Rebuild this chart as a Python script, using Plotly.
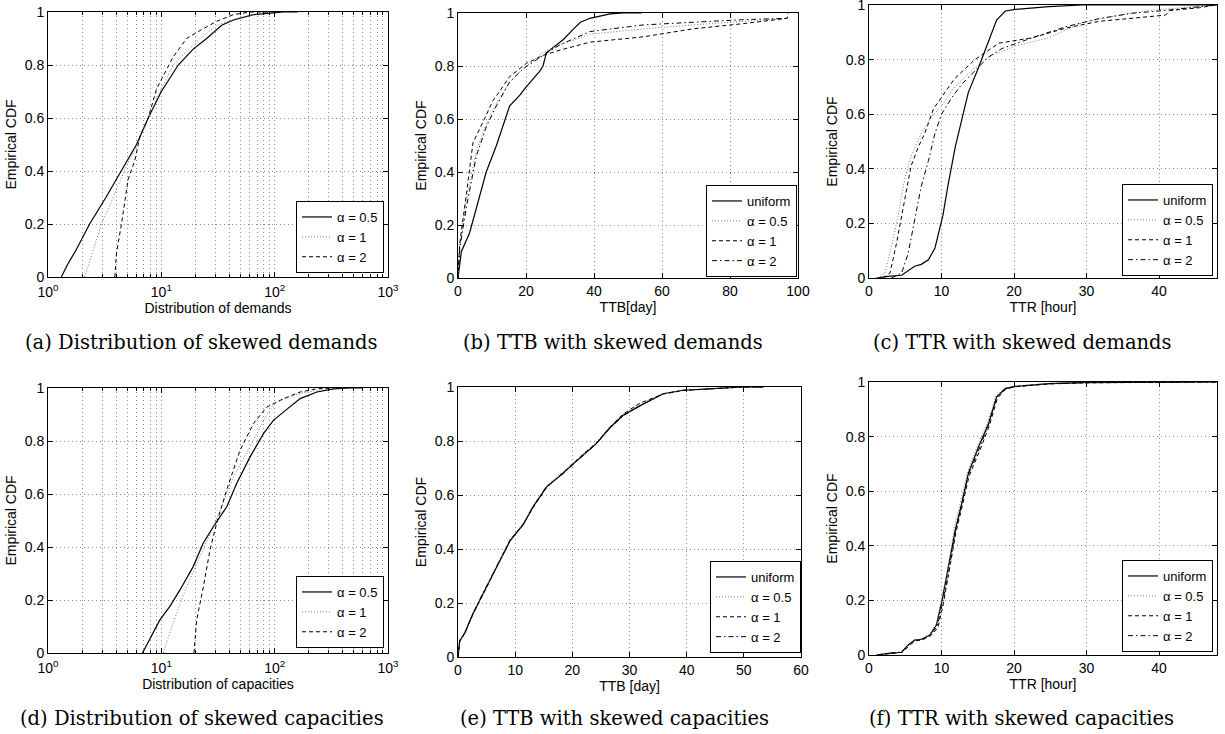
import plotly.graph_objects as go

W, H = 1225, 734

# ---------------- data ----------------
legend_alpha3 = ["α = 0.5", "α = 1", "α = 2"]
legend_alpha4 = ["uniform", "α = 0.5", "α = 1", "α = 2"]

# (a) Distribution of skewed demands (log x)
a_x05 = [1.31, 1.50, 1.76, 2.04, 2.33, 3.24, 4.45, 6.04, 7.66, 10.0, 14.1, 19.1, 25.1, 34.1, 43.3, 65, 120, 160]
a_y05 = [0, 0.05, 0.10, 0.15, 0.20, 0.30, 0.40, 0.50, 0.60, 0.70, 0.80, 0.86, 0.90, 0.95, 0.97, 0.99, 1.0, 1.0]
a_x1 = [2.11, 2.96, 3.76, 4.93, 6.46, 7.66, 9.71, 12.7, 21.9, 30.8, 50, 85, 160]
a_y1 = [0, 0.20, 0.30, 0.42, 0.52, 0.60, 0.70, 0.80, 0.90, 0.95, 0.98, 1.0, 1.0]
a_x2 = [3.89, 4.02, 4.45, 5.10, 5.84, 6.46, 7.66, 9.08, 12.7, 16.7, 21.9, 30.8, 43.2, 60.7, 100]
a_y2 = [0, 0.09, 0.20, 0.37, 0.44, 0.53, 0.60, 0.71, 0.83, 0.90, 0.93, 0.965, 0.99, 1.0, 1.0]

# (b) TTB with skewed demands
b_xu = [0, 0.5, 1, 3.4, 8.3, 11.3, 15.2, 18.2, 20, 24, 25, 26, 28, 31, 34, 36, 38.8, 44.7, 48.6, 54]
b_yu = [0, 0.06, 0.10, 0.17, 0.40, 0.50, 0.65, 0.69, 0.72, 0.78, 0.80, 0.85, 0.87, 0.90, 0.94, 0.965, 0.98, 0.997, 1.0, 1.0]
b_x05 = [0, 0.5, 2.5, 5.4, 8.3, 11.3, 15.2, 19.2, 25, 30, 38.8, 54.5, 69, 84, 96.8, 97]
b_y05 = [0, 0.12, 0.30, 0.48, 0.58, 0.66, 0.74, 0.79, 0.85, 0.88, 0.92, 0.94, 0.955, 0.967, 0.978, 0.98]
b_x1 = [0, 0.5, 2.5, 4.4, 7.4, 10.3, 12, 15.2, 20.1, 25, 30, 38.8, 54.5, 69, 84, 96.8, 97]
b_y1 = [0, 0.13, 0.32, 0.51, 0.59, 0.67, 0.70, 0.76, 0.81, 0.84, 0.86, 0.89, 0.91, 0.94, 0.96, 0.98, 1.0]
b_x2 = [0, 0.5, 2.5, 5.4, 8.3, 11.3, 15.2, 19.2, 25, 30, 38.8, 54.5, 69, 84, 96.8, 97]
b_y2 = [0, 0.11, 0.27, 0.46, 0.57, 0.65, 0.74, 0.79, 0.84, 0.88, 0.93, 0.955, 0.965, 0.975, 0.98, 0.98]

# (c) TTR with skewed demands
c_xu = [1.0, 2.6, 4.5, 5.4, 6.3, 7.2, 8.2, 9.1, 9.5, 10.2, 10.9, 11.9, 12.8, 13.7, 15.1, 16.5, 17.6, 18.8, 20.2, 24.8, 29.4, 48]
c_yu = [0, 0.006, 0.01, 0.025, 0.043, 0.05, 0.067, 0.11, 0.15, 0.23, 0.34, 0.48, 0.58, 0.68, 0.77, 0.87, 0.945, 0.978, 0.984, 0.994, 1.0, 1.0]
c_x05 = [1.2, 2.2, 3.1, 4.0, 4.9, 5.8, 7.2, 8.6, 10, 11.8, 14.2, 16.5, 20.2, 24.8, 29.4, 34, 38.6, 43.2, 47.8]
c_y05 = [0, 0.018, 0.116, 0.226, 0.36, 0.445, 0.53, 0.59, 0.63, 0.70, 0.76, 0.81, 0.85, 0.88, 0.935, 0.96, 0.98, 0.99, 1.0]
c_x1 = [1.9, 2.9, 3.8, 4.7, 5.8, 6.8, 7.7, 8.9, 10, 11.8, 14.6, 17.9, 22.5, 27.1, 31.7, 38.6, 40.9, 41.5, 45.6, 47.8]
c_y1 = [0, 0.018, 0.128, 0.26, 0.41, 0.48, 0.53, 0.62, 0.66, 0.73, 0.80, 0.86, 0.88, 0.915, 0.94, 0.957, 0.963, 0.98, 0.99, 1.0]
c_x2 = [3.1, 4.5, 5.4, 6.3, 7.2, 8.2, 9.1, 10, 11.4, 12.8, 14.6, 16.5, 18.3, 22.5, 27.1, 31.7, 36.3, 40.9, 47.8]
c_y2 = [0, 0.018, 0.09, 0.21, 0.335, 0.43, 0.53, 0.60, 0.66, 0.71, 0.76, 0.81, 0.84, 0.88, 0.92, 0.95, 0.97, 0.98, 1.0]

# (d) Distribution of skewed capacities (log x)
d_x05 = [6.82, 8.20, 9.71, 11.9, 14.6, 19.1, 23.4, 28.8, 37.8, 46.2, 60.7, 79.6, 97.5, 120, 168, 236, 331, 465, 600]
d_y05 = [0, 0.063, 0.125, 0.176, 0.238, 0.326, 0.414, 0.477, 0.552, 0.64, 0.74, 0.828, 0.878, 0.91, 0.96, 0.985, 0.997, 1.0, 1.0]
d_x1 = [10.4, 12.7, 16.7, 21.9, 28.8, 43.2, 60.7, 85.2, 104, 168, 236, 331, 600]
d_y1 = [0, 0.113, 0.25, 0.364, 0.477, 0.665, 0.778, 0.90, 0.947, 0.98, 0.99, 1.0, 1.0]
d_x2 = [19.4, 20.5, 23.5, 26.9, 30.8, 37.7, 49.5, 65.0, 85.2, 120, 168, 236, 331]
d_y2 = [0, 0.125, 0.25, 0.39, 0.49, 0.615, 0.765, 0.866, 0.928, 0.96, 0.985, 0.997, 1.0]

# (e) TTB with skewed capacities
e_x = [0, 0.3, 1.2, 2.6, 4.4, 6.7, 9.1, 11.4, 13.1, 15.5, 17.8, 20.2, 22.5, 24.2, 26.6, 28.9, 31.8, 33.6, 35.9, 39.4, 44.1, 49.9, 53.4]
e_yu = [0, 0.06, 0.09, 0.16, 0.235, 0.33, 0.43, 0.49, 0.555, 0.63, 0.67, 0.716, 0.76, 0.79, 0.85, 0.895, 0.93, 0.95, 0.975, 0.988, 0.994, 1.0, 1.0]
e_y05 = [0, 0.055, 0.085, 0.155, 0.235, 0.335, 0.435, 0.495, 0.56, 0.635, 0.675, 0.72, 0.765, 0.795, 0.855, 0.90, 0.935, 0.952, 0.976, 0.988, 0.994, 1.0, 1.0]
e_y1 = [0, 0.058, 0.088, 0.158, 0.232, 0.33, 0.432, 0.492, 0.552, 0.628, 0.672, 0.72, 0.762, 0.792, 0.852, 0.90, 0.94, 0.955, 0.974, 0.987, 0.994, 1.0, 1.0]
e_y2 = [0, 0.06, 0.09, 0.16, 0.238, 0.332, 0.432, 0.49, 0.556, 0.632, 0.668, 0.714, 0.758, 0.79, 0.848, 0.893, 0.93, 0.95, 0.975, 0.988, 0.994, 1.0, 1.0]

# (f) TTR with skewed capacities
f_xu = [1.0, 2.6, 4.5, 5.4, 6.3, 7.2, 8.4, 9.3, 10.0, 10.9, 11.9, 12.8, 13.7, 15.1, 16.5, 17.6, 18.8, 20.2, 24.8, 29.4, 48]
f_yu = [0, 0.006, 0.01, 0.037, 0.055, 0.057, 0.073, 0.11, 0.19, 0.31, 0.457, 0.555, 0.665, 0.762, 0.848, 0.945, 0.976, 0.984, 0.994, 0.998, 1.0]
f_x05 = [1.2, 2.6, 4.6, 5.5, 6.3, 7.3, 8.3, 9.3, 10.0, 10.9, 11.8, 12.7, 13.6, 15.0, 16.4, 17.5, 18.6, 20.0, 25.0, 30.0, 48]
f_y05 = [0, 0.006, 0.012, 0.035, 0.055, 0.058, 0.075, 0.115, 0.20, 0.32, 0.47, 0.565, 0.67, 0.77, 0.855, 0.95, 0.977, 0.985, 0.995, 0.998, 1.0]
f_x1 = [1.3, 2.7, 4.6, 5.5, 6.4, 7.3, 8.5, 9.5, 10.2, 11.0, 12.0, 12.9, 13.8, 15.3, 16.6, 17.7, 18.9, 20.3, 25.0, 30.0, 48]
f_y1 = [0, 0.005, 0.01, 0.033, 0.052, 0.055, 0.07, 0.10, 0.18, 0.30, 0.45, 0.55, 0.655, 0.75, 0.84, 0.94, 0.975, 0.983, 0.993, 0.997, 1.0]
f_x2 = [1.2, 2.6, 4.5, 5.4, 6.3, 7.2, 8.4, 9.4, 10.1, 11.0, 11.9, 12.8, 13.7, 15.2, 16.5, 17.6, 18.8, 20.2, 25.0, 30.0, 48]
f_y2 = [0, 0.006, 0.01, 0.036, 0.054, 0.056, 0.072, 0.105, 0.185, 0.305, 0.455, 0.555, 0.66, 0.755, 0.845, 0.945, 0.976, 0.984, 0.994, 0.998, 1.0]

captions = ["(a) Distribution of skewed demands", "(b) TTB with skewed demands",
            "(c) TTR with skewed demands", "(d) Distribution of skewed capacities",
            "(e) TTB with skewed capacities", "(f) TTR with skewed capacities"]
x_titles = ["Distribution of demands", "TTB[day]", "TTR [hour]",
            "Distribution of capacities", "TTB [day]", "TTR [hour]"]
y_title = "Empirical CDF"
y_ticks = [0, 0.2, 0.4, 0.6, 0.8, 1]
y_ticktext = ["0", "0.2", "0.4", "0.6", "0.8", "1"]
log_ticks = [1, 10, 100, 1000]
log_ticktext = ["10<sup>0</sup>", "10<sup>1</sup>", "10<sup>2</sup>", "10<sup>3</sup>"]
log_minor = [m * d for d in (1, 10, 100) for m in range(2, 10)]

# ---------------- styles ----------------
SANS = "Liberation Sans, Arial, Helvetica, sans-serif"
SERIF = "DejaVu Serif, serif"
styles = {
    "solid": dict(color="black", width=1.2, dash="solid"),
    "dot": dict(color="#777777", width=1.0, dash="1px,2px"),
    "dash": dict(color="black", width=1.0, dash="4px,3px"),
    "dashdot": dict(color="black", width=1.0, dash="5px,3px,1.5px,3px"),
}

# panel pixel boxes: (left, right, top, bottom)
boxes = [(48, 388, 12, 277), (458, 798, 13, 278), (869, 1217, 5, 278),
         (48, 388, 388, 653), (458, 801, 387, 657), (869, 1217, 382, 655)]
legend_pos = [(384, 273), (797, 277), (1213, 276), (384, 648), (801, 653), (1213, 652)]
caption_pos = [(201, 342), (613, 342), (1022, 342), (202, 718), (614, 718), (1021, 718)]

panels = [
    [(a_x05, a_y05, "solid"), (a_x1, a_y1, "dot"), (a_x2, a_y2, "dash")],
    [(b_xu, b_yu, "solid"), (b_x05, b_y05, "dot"), (b_x1, b_y1, "dash"), (b_x2, b_y2, "dashdot")],
    [(c_xu, c_yu, "solid"), (c_x05, c_y05, "dot"), (c_x1, c_y1, "dash"), (c_x2, c_y2, "dashdot")],
    [(d_x05, d_y05, "solid"), (d_x1, d_y1, "dot"), (d_x2, d_y2, "dash")],
    [(e_x, e_yu, "solid"), (e_x, e_y05, "dot"), (e_x, e_y1, "dash"), (e_x, e_y2, "dashdot")],
    [(f_xu, f_yu, "solid"), (f_x05, f_y05, "dot"), (f_x1, f_y1, "dash"), (f_x2, f_y2, "dashdot")],
]
x_ranges = [None, [0, 100], [0, 48], None, [0, 60], [0, 48]]
x_dticks = [None, 20, 10, None, 10, 10]

fig = go.Figure()
layout = dict(width=W, height=H, margin=dict(l=0, r=0, t=0, b=0),
              paper_bgcolor="white", plot_bgcolor="white", showlegend=True,
              font=dict(family=SANS, size=14, color="black"), annotations=[])

GRID = "#8c8c8c"
GDASH = "1px,3px"
for i, traces in enumerate(panels):
    n = i + 1
    sfx = "" if n == 1 else str(n)
    names = legend_alpha3 if len(traces) == 3 else legend_alpha4
    for (xs, ys, st), name in zip(traces, names):
        fig.add_trace(go.Scatter(x=xs, y=ys, mode="lines", name=name, line=styles[st],
                                 xaxis="x" + sfx, yaxis="y" + sfx, legend="legend" + sfx,
                                 hoverinfo="skip"))
    l, r, t, b = boxes[i]
    common = dict(showline=True, linecolor="black", linewidth=1, mirror="ticks",
                  ticks="inside", ticklen=5, tickcolor="black", tickwidth=1,
                  showgrid=True, gridcolor=GRID, griddash=GDASH, gridwidth=1,
                  zeroline=False, automargin=False, ticklabeloverflow="allow",
                  tickfont=dict(family=SANS, size=14, color="black"))
    xa = dict(common, domain=[l / W, r / W], anchor="y" + sfx,
              title=dict(text=x_titles[i], font=dict(family=SANS, size=14), standoff=2))
    if x_ranges[i] is None:
        xa.update(type="log", range=[0, 3], tickmode="array", tickvals=log_ticks,
                  ticktext=log_ticktext, ticklabelstandoff=2,
                  minor=dict(tickmode="array", tickvals=log_minor, ticks="inside", ticklen=3,
                             tickcolor="black", showgrid=True, gridcolor=GRID,
                             griddash=GDASH, gridwidth=1))
    else:
        xa.update(range=x_ranges[i], dtick=x_dticks[i], tick0=0)
    ya = dict(common, domain=[1 - b / H, 1 - t / H], anchor="x" + sfx, range=[0, 1],
              tickmode="array", tickvals=y_ticks, ticktext=y_ticktext,
              title=dict(text=y_title, font=dict(family=SANS, size=14), standoff=4))
    layout["xaxis" + sfx] = xa
    layout["yaxis" + sfx] = ya
    lx, ly = legend_pos[i]
    layout["legend" + sfx] = dict(x=lx / W, y=1 - ly / H, xanchor="right", yanchor="bottom",
                                  xref="paper", yref="paper",
                                  bgcolor="white", bordercolor="black", borderwidth=1,
                                  font=dict(family=SANS, size=13, color="black"),
                                  itemwidth=30, tracegroupgap=0)
    cx, cy = caption_pos[i]
    layout["annotations"].append(dict(text=captions[i], x=cx / W, y=1 - cy / H,
                                      xref="paper", yref="paper", showarrow=False,
                                      xanchor="center", yanchor="middle",
                                      font=dict(family=SERIF, size=19.5, color="black")))

fig.update_layout(**layout)
fig.write_html("out.html", config={"displayModeBar": False},
               post_script="document.body.style.margin='0px';document.body.style.overflow='hidden';")
